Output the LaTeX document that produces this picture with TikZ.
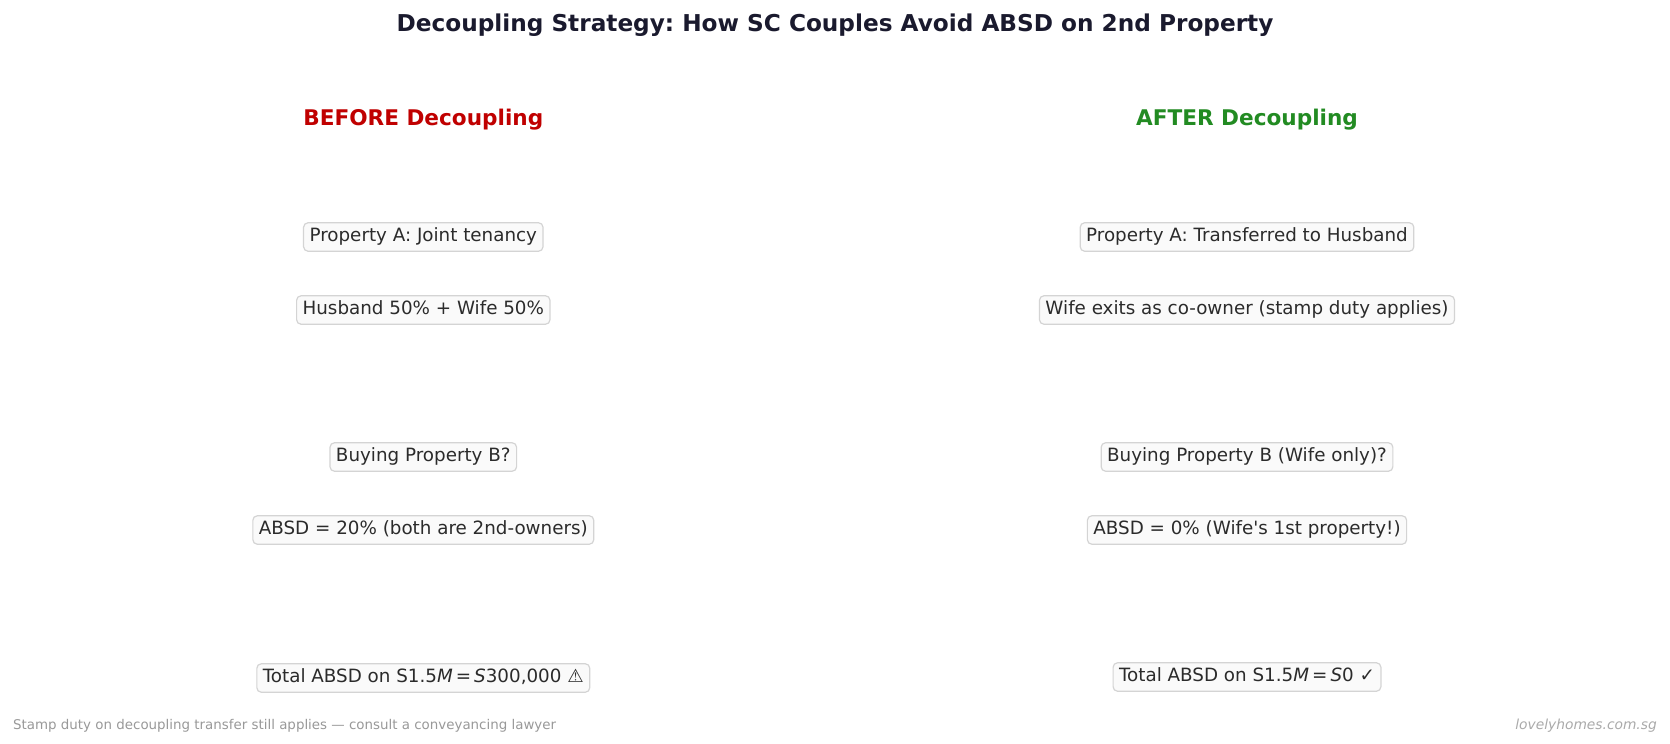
\documentclass[tikz,border=0pt]{standalone}
\usepackage{fontspec}
\setmainfont{DejaVu Sans}
\frenchspacing
\definecolor{titlec}{HTML}{1A1A2E}
\definecolor{beforec}{HTML}{C00000}
\definecolor{afterc}{HTML}{228B22}
\definecolor{boxtext}{HTML}{2B2B2B}
\definecolor{boxline}{HTML}{D4D4D4}
\definecolor{boxfill}{HTML}{FAFAFA}
\definecolor{footc}{HTML}{999999}
\definecolor{urlc}{HTML}{AAAAAA}
\begin{document}
\begin{tikzpicture}[x=1pt,y=1pt,
  infobox/.style={draw=boxline, line width=1.2pt, fill=boxfill, rounded corners=4.5pt,
    text=boxtext, font=\fontsize{18.3}{22}\selectfont, inner xsep=6pt, inner ysep=5.5pt,
    text height=13.5pt, text depth=4pt, anchor=center},
  heading/.style={font=\fontsize{21.6}{26}\selectfont\bfseries, anchor=center}]
\useasboundingbox[fill=white] (0,0) rectangle (1670,-744);
\node[heading, text=titlec, font=\fontsize{23.2}{28}\selectfont\bfseries] (title) at (835,-25) {Decoupling Strategy: How SC Couples Avoid ABSD on 2nd Property};
\node[heading, text=beforec] (before) at (423.3,-120) {BEFORE Decoupling};
\node[heading, text=afterc] (after) at (1247,-120) {AFTER Decoupling};

\node[infobox] (l1) at (423.3,-237) {Property A: Joint tenancy};
\node[infobox] (l2) at (423.3,-310) {Husband 50\% + Wife 50\%};
\node[infobox] (l3) at (423.3,-457) {Buying Property B?};
\node[infobox] (l4) at (423.3,-530) {ABSD = 20\% (both are 2nd-owners)};
\node[infobox] (l5) at (423.3,-678) {Total ABSD on S1.5{\itshape M}\,=\,{\itshape S}300,000 ⚠};

\node[infobox] (r1) at (1247,-237) {Property A: Transferred to Husband};
\node[infobox] (r2) at (1247,-310) {Wife exits as co-owner (stamp duty applies)};
\node[infobox] (r3) at (1247,-457) {Buying Property B (Wife only)?};
\node[infobox] (r4) at (1247,-530) {ABSD = 0\% (Wife\textquotesingle s 1st property!)};
\node[infobox] (r5) at (1247,-677) {Total ABSD on S1.5{\itshape M}\,=\,{\itshape S}0 ✓};

\node[anchor=west, inner sep=0pt, text=footc, font=\fontsize{13.4}{16}\selectfont] (foot) at (13,-726) {Stamp duty on decoupling transfer still applies — consult a conveyancing lawyer};
\node[anchor=east, inner sep=0pt, text=urlc, font=\fontsize{13.8}{16}\selectfont\itshape] (url) at (1657,-726) {lovelyhomes.com.sg};
\end{tikzpicture}
\end{document}
